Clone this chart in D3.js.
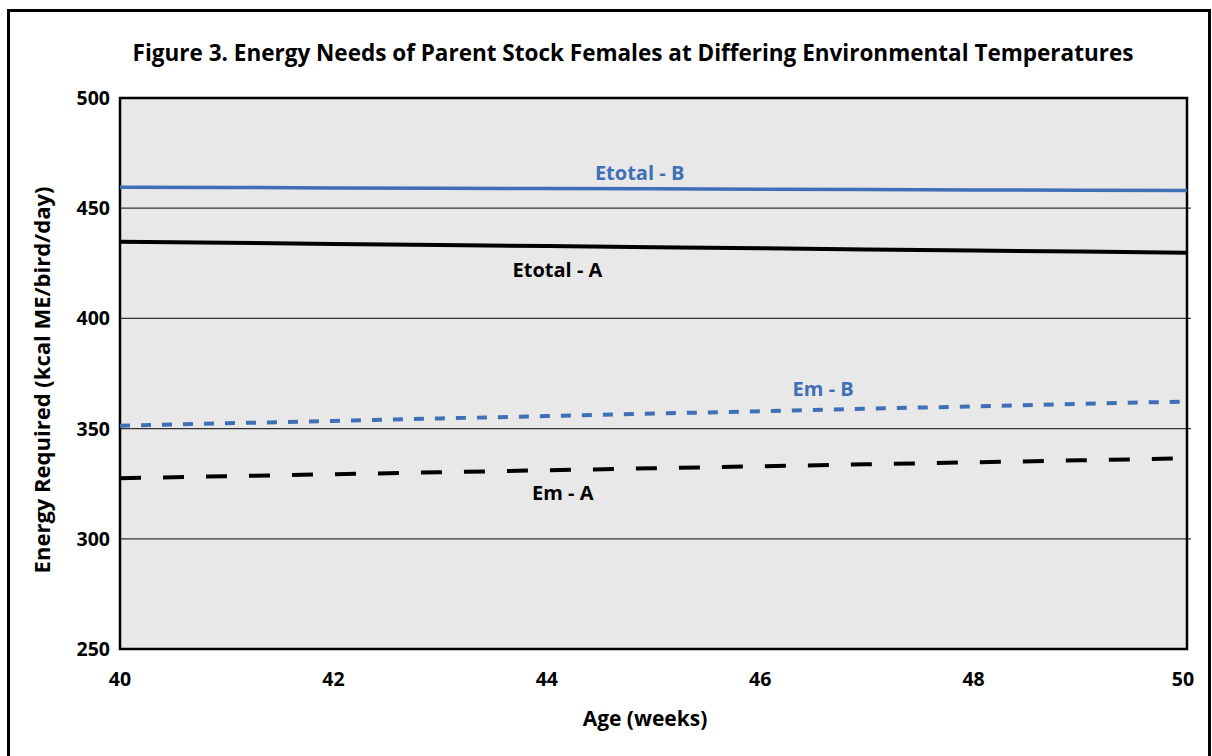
<!DOCTYPE html>
<html>
<head>
<meta charset="utf-8">
<script src="https://cdn.jsdelivr.net/npm/d3@7"></script>
<style>
  body { margin: 0; background: #fff; }
  text { font-family: "Open Sans", "Noto Sans", sans-serif; font-weight: bold; }
</style>
</head>
<body>
<script>
// data
var weeks = [40, 41, 42, 43, 44, 45, 46, 47, 48, 49, 50];
var etotalB = [459.5, 459.4, 459.2, 459.1, 458.9, 458.8, 458.6, 458.5, 458.3, 458.2, 458.0];
var etotalA = [434.8, 434.3, 433.8, 433.3, 432.8, 432.3, 431.8, 431.3, 430.8, 430.3, 429.8];
var emB = [351.3, 352.4, 353.5, 354.6, 355.7, 356.8, 357.9, 359.0, 360.1, 361.2, 362.3];
var emA = [327.5, 328.4, 329.3, 330.2, 331.1, 332.0, 332.9, 333.8, 334.7, 335.6, 336.5];
var yTicks = [250, 300, 350, 400, 450, 500];
var xTicks = [40, 42, 44, 46, 48, 50];

var W = 1212, H = 756;
var margin = {top: 98, right: 25, bottom: 107, left: 120},
    width = W - margin.left - margin.right,
    height = H - margin.top - margin.bottom;

var svg = d3.select("body").append("svg")
    .attr("width", W)
    .attr("height", H);

// outer frame
svg.append("rect")
    .attr("x", 8.5).attr("y", 10.5)
    .attr("width", 1201).attr("height", 760)
    .attr("fill", "none").attr("stroke", "#000").attr("stroke-width", 3);

svg.append("text")
    .attr("x", 633).attr("y", 61)
    .attr("text-anchor", "middle")
    .attr("font-size", 22.5)
    .text("Figure 3. Energy Needs of Parent Stock Females at Differing Environmental Temperatures");

var g = svg.append("g")
    .attr("transform", "translate(" + margin.left + "," + margin.top + ")");

var x = d3.scaleLinear().domain([40, 50]).range([0, width]);
var y = d3.scaleLinear().domain([250, 500]).range([height, 0]);

g.append("rect")
    .attr("width", width).attr("height", height)
    .attr("fill", "#e8e8e8");

// gridlines
g.append("g")
    .selectAll("line")
    .data(yTicks.slice(1, -1))
    .enter().append("line")
    .attr("x1", 0).attr("x2", width + 4)
    .attr("y1", function(d) { return y(d); })
    .attr("y2", function(d) { return y(d); })
    .attr("stroke", "#333").attr("stroke-width", 1.2);

g.append("rect")
    .attr("width", width).attr("height", height)
    .attr("fill", "none").attr("stroke", "#000").attr("stroke-width", 2.5);

// tick labels
g.append("g")
    .selectAll("text")
    .data(yTicks)
    .enter().append("text")
    .attr("x", -10)
    .attr("y", function(d) { return y(d) + 7; })
    .attr("text-anchor", "end")
    .attr("font-size", 19.5)
    .text(function(d) { return d; });

g.append("g")
    .selectAll("text")
    .data(xTicks)
    .enter().append("text")
    .attr("x", function(d) { return x(d) - (d == 50 ? 4 : 0); })
    .attr("y", height + 37)
    .attr("text-anchor", "middle")
    .attr("font-size", 19.5)
    .text(function(d) { return d; });

svg.append("text")
    .attr("x", 645).attr("y", 726)
    .attr("text-anchor", "middle")
    .attr("font-size", 21)
    .text("Age (weeks)");

svg.append("text")
    .attr("transform", "translate(50,380) rotate(-90)")
    .attr("text-anchor", "middle")
    .attr("font-size", 22)
    .text("Energy Required (kcal ME/bird/day)");

var series = [
    {name: "Etotal - B", values: etotalB, color: "#3f6fb6", width: 3.5, dash: null, lx: 44.87, lv: 463},
    {name: "Etotal - A", values: etotalA, color: "#000", width: 4, dash: null, lx: 44.1, lv: 419},
    {name: "Em - B", values: emB, color: "#3f6fb6", width: 4, dash: "10,11", lx: 46.59, lv: 365},
    {name: "Em - A", values: emA, color: "#000", width: 4, dash: "21,22", lx: 44.15, lv: 317.5}
];

var line = d3.line()
    .x(function(d, i) { return x(weeks[i]); })
    .y(function(d) { return y(d); });

series.forEach(function(s) {
    g.append("path")
        .datum(s.values)
        .attr("d", line)
        .attr("fill", "none")
        .attr("stroke", s.color)
        .attr("stroke-width", s.width)
        .attr("stroke-dasharray", s.dash);
    g.append("text")
        .attr("x", x(s.lx))
        .attr("y", y(s.lv))
        .attr("text-anchor", "middle")
        .attr("font-size", 20)
        .attr("fill", s.color)
        .text(s.name);
});
</script>
</body>
</html>
